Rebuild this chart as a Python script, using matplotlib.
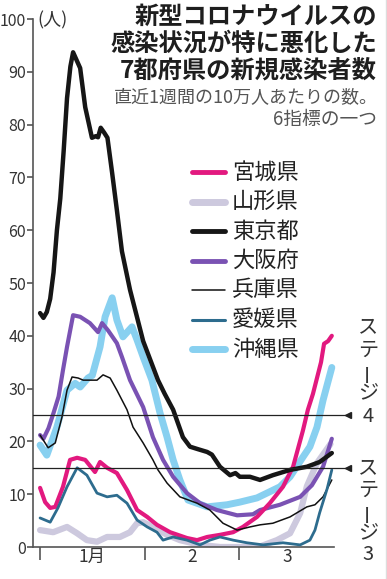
import matplotlib
matplotlib.use("Agg")
import matplotlib.pyplot as plt

plt.rcParams['font.family'] = ['Noto Sans CJK JP', 'DejaVu Sans']

# ---- data (day 0 = Jan 1; values per 100k people, last 7 days) ----
tokyo_days = [0, 1, 2, 3, 4, 5, 6, 7, 8, 9, 9.8, 11.9, 13.4, 15.4, 16.5, 17.2, 18, 19, 20, 21.4, 22.8, 24.3, 26.7,
              30.6, 35, 37, 39.5, 42.4, 44.5, 47, 49.6, 51, 53.4, 56.4, 58, 59.3, 62.3, 65.3, 69.1, 74.2, 79.2, 83, 86.6]
tokyo_vals = [44.3, 43.4, 44.5, 47, 52, 60, 66, 75, 85, 91, 93.7, 90.7, 83.3, 77.5, 77.8, 77.6, 79.4, 78.5, 77.5, 70.8, 63.8, 56, 48.7,
              39, 31.6, 29, 26, 20.8, 19, 18.5, 18, 17.5, 15.2, 13.6, 14, 13.3, 13.3, 12.7, 13.6, 14.6, 15.2, 16.1, 17.8]

osaka_days = [0, 1, 2.5, 4, 5.5, 6.8, 8, 9.8, 11.9, 14.8, 17.2, 18.4, 20.2, 22.8, 24.3, 26.7, 30.6, 33.5, 36.5, 39.5,
              43.6, 47.5, 52.5, 58.5, 63.2, 65.3, 71.2, 77.2, 80.7, 84, 86.6]
osaka_vals = [21.2, 20.5, 22.5, 25.4, 28.5, 33.5, 37.9, 43.9, 43.6, 42.4, 40.7, 42.4, 41, 38.6, 36, 31.6, 26.5, 20.8, 16.5, 13.3,
              10.2, 8.3, 7, 6, 6.2, 7, 8, 9.5, 11.7, 15.2, 20.5]

hyogo_days = [0, 2.4, 4.5, 6.5, 8, 9.5, 11.3, 12.8, 14.8, 16.9, 18.7, 20.8, 22.8, 25.8, 27.6, 30.6, 33.5, 35, 37.7,
              41.5, 46.6, 50.4, 54.3, 58.5, 62.3, 65.3, 69.1, 74.2, 79.2, 81.6, 84, 86.6]
hyogo_vals = [21.2, 18.8, 19.7, 24.6, 29.7, 32.2, 32, 31.6, 31.6, 31.6, 32.6, 32, 29.7, 26, 22.7, 19.7, 16.5, 14.6, 12.1,
              9.5, 8.3, 7, 4.5, 3.2, 3.8, 4.2, 4.5, 5.7, 7.6, 8, 9.5, 12.7]

okinawa_days = [0, 2, 5, 8, 10.4, 11.9, 14.2, 15.5, 17.8, 19.3, 21.4, 22.8, 24.6, 27.3, 28.8, 30.6, 33.2, 35.6, 37.7,
                39.5, 41.5, 43.9, 49.6, 55.5, 59.3, 64.4, 71.2, 74.2, 78, 80.1, 82.2, 84, 86.6]
okinawa_vals = [19.3, 17.4, 22.7, 29.7, 31, 30.3, 32, 32.5, 37.9, 43.6, 47.2, 43, 39.8, 41.7, 39.2, 36, 31.6, 25.4, 20.8,
                16.5, 12.7, 8.9, 7.6, 8, 8.5, 9.3, 11.4, 13.3, 17, 19, 22.7, 27.8, 34]

miyagi_days = [0, 1.5, 3, 4.5, 6.8, 8.9, 11, 13.4, 16.3, 17.8, 19.9, 22.8, 25.8, 28.8, 31.8, 34.7, 38.6, 43.6, 46.6,
               49.6, 53.4, 57.3, 60.2, 64.4, 68.2, 72.1, 75.1, 78, 79.5, 81, 82.2, 83.4, 84.3, 85.5, 86.6]
miyagi_vals = [11.2, 8.5, 7.4, 7.6, 11.4, 16.5, 16.9, 16.5, 14.2, 16.1, 15, 14, 10.8, 7, 5.7, 4.2, 2.8, 1.7, 1.3,
               1.9, 2.3, 2.8, 3.8, 5.7, 8.3, 11.4, 15.2, 22, 26, 29, 32, 35, 38.5, 39, 40]

yamagata_days = [0, 3.9, 8, 11, 13.9, 16.9, 19.9, 23.7, 26.7, 28.8, 30.6, 33.5, 37.7, 41.5, 47.5, 53.4, 59.3, 65.3,
                 70.3, 74.2, 77.2, 79.2, 82.2, 86.2]
yamagata_vals = [3.2, 2.8, 3.8, 2.6, 1.3, 1, 1.9, 1.9, 2.8, 4.5, 4.7, 3.8, 2.3, 1.3, 0.4, 0, 0, 0.1,
                 1.3, 2.6, 6.4, 11.5, 15.9, 19.5]

ehime_days = [0, 3, 5.3, 8, 11, 13.9, 16.9, 19.9, 22.8, 25.8, 28.8, 31.8, 34.7, 36.5, 39.5, 43.6, 47.5, 50.4, 53.4,
              57.3, 61.4, 66.2, 72.1, 77.2, 80.1, 81.6, 83, 85.2, 86.6]
ehime_vals = [5.5, 4.7, 7.4, 11.4, 15, 13.6, 10.2, 9.5, 9.8, 8.3, 5.1, 3.8, 2.8, 1.3, 1.9, 1.3, 0.4, 1.3, 1.9,
              1.3, 0.8, 0.4, 0.8, 0.4, 1.3, 3.2, 6.5, 11, 14.6]

names = ['宮城県', '山形県', '東京都', '大阪府', '兵庫県', '愛媛県', '沖縄県']
stage_levels = [25, 15]
month_ticks = [0, 31, 59]
month_label_pos = [15.5, 45, 73.5]
month_labels = ['1月', '2', '3']
y_ticks = list(range(0, 101, 10))

series = {
    '宮城県': (miyagi_days, miyagi_vals),
    '山形県': (yamagata_days, yamagata_vals),
    '東京都': (tokyo_days, tokyo_vals),
    '大阪府': (osaka_days, osaka_vals),
    '兵庫県': (hyogo_days, hyogo_vals),
    '愛媛県': (ehime_days, ehime_vals),
    '沖縄県': (okinawa_days, okinawa_vals),
}
styles = {
    '宮城県': dict(color='#e2197f', lw=3.0, z=5),
    '山形県': dict(color='#cdc9de', lw=4.5, z=2),
    '東京都': dict(color='#161616', lw=3.2, z=7),
    '大阪府': dict(color='#7a52b3', lw=3.0, z=4),
    '兵庫県': dict(color='#111111', lw=1.1, z=6),
    '愛媛県': dict(color='#2d6c8e', lw=2.0, z=6),
    '沖縄県': dict(color='#88d0f0', lw=5.0, z=3),
}

W, H = 387, 579
fig = plt.figure(figsize=(W / 100, H / 100), dpi=100)
fig.patch.set_facecolor('white')

def fx(px):
    return px / W

def fy(py):
    return 1 - py / H

ax = fig.add_axes([fx(33), fy(547), (350 - 33) / W, (547 - 19) / H])
ax.set_xlim(-2.1, 92.0)
ax.set_ylim(0, 100)
ax.set_facecolor('none')

for name in names:
    d, v = series[name]
    st = styles[name]
    ax.plot(d, v, color=st['color'], lw=st['lw'], zorder=st['z'],
            solid_capstyle='round', solid_joinstyle='round')

for lvl in stage_levels:
    ax.axhline(lvl, xmin=0, xmax=(347 - 33) / 317, color='#222222', lw=0.9, zorder=8)
    ax.plot([91.3], [lvl], marker='<', color='#222222', markersize=5, clip_on=False, zorder=9)

for s in ['top', 'right']:
    ax.spines[s].set_visible(False)
for s in ['left', 'bottom']:
    ax.spines[s].set_color('#555555')
    ax.spines[s].set_linewidth(1.2)
ax.spines['bottom'].set_bounds(-2.1, 87.2)
ax.spines['left'].set_bounds(0, 100)

ax.set_yticks(y_ticks)
ax.set_yticklabels([str(t) for t in y_ticks])
ax.tick_params(axis='y', direction='out', length=4, width=1.2, color='#555555',
               labelsize=11.5, labelcolor='#333333', pad=1)
ax.set_xticks(month_ticks)
ax.set_xticklabels([])
ax.tick_params(axis='x', which='major', direction='out', length=9, width=1.2, color='#555555')
ax.set_xticks(month_label_pos, minor=True)
ax.set_xticklabels(month_labels, minor=True)
ax.tick_params(axis='x', which='minor', length=0, labelsize=12.5, labelcolor='#333333', pad=1)

# unit
fig.text(fx(37), fy(20), '(人)', fontsize=13, color='#333333', ha='left', va='center')

# title
title_lines = ['新型コロナウイルスの', '感染状況が特に悪化した', '7都府県の新規感染者数']
for i, t in enumerate(title_lines):
    fig.text(fx(377), fy(17 + 27 * i), t, fontsize=17.5, fontweight='bold', color='#1e1e1e',
             ha='right', va='center')
fig.text(fx(378), fy(97), '直近1週間の10万人あたりの数。', fontsize=13, color='#555555',
         ha='right', va='center')
fig.text(fx(377), fy(119), '6指標の一つ', fontsize=13.5, color='#555555', ha='right', va='center')

# legend
for i, name in enumerate(names):
    st = styles[name]
    yy = 172 + 29.5 * i
    lw = {'山形県': 5.0, '沖縄県': 5.0, '兵庫県': 1.1, '愛媛県': 2.2}.get(name, 3.5)
    fig.add_artist(plt.Line2D([fx(192), fx(225)], [fy(yy), fy(yy)], color=st['color'], lw=lw,
                              solid_capstyle='round'))
    fig.text(fx(232), fy(yy), name, fontsize=16, color='#222222', ha='left', va='center')

# stage labels (vertical)
def vtext(chars, y0, step):
    for k, ch in enumerate(chars):
        rot = 90 if ch == 'ー' else 0
        fig.text(fx(368), fy(y0 + step * k), ch, fontsize=14.5, color='#333333',
                 ha='center', va='center', rotation=rot)

vtext(['ス', 'テ', 'ー', 'ジ', '4'], 328, 22)
vtext(['ス', 'テ', 'ー', 'ジ', '3'], 469, 21.5)

fig.add_artist(plt.Line2D([fx(385.5), fx(385.5)], [0, 1], color='#dddddd', lw=1.0))

fig.savefig('out.png', dpi=100)
